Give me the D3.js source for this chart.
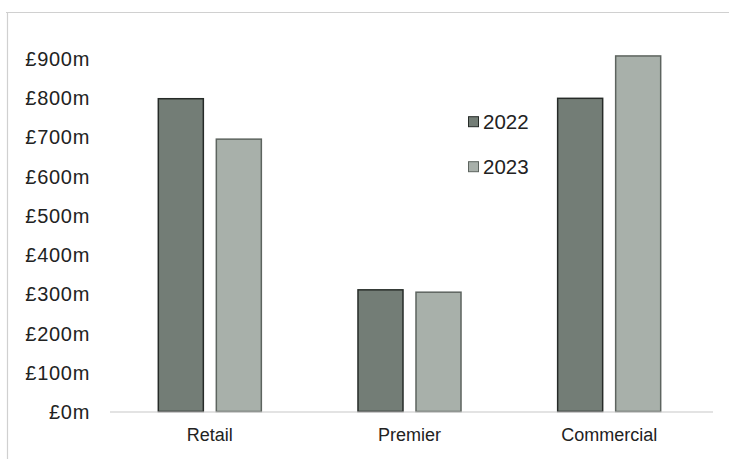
<!DOCTYPE html>
<html>
<head>
<meta charset="utf-8">
<script src="https://cdn.jsdelivr.net/npm/d3@7"></script>
<style>
  html, body { margin: 0; padding: 0; background: #fff; }
  svg { display: block; }
  text { font-family: "Liberation Sans", Arial, sans-serif; fill: #222; }
</style>
</head>
<body>
<svg id="chart" width="729" height="459"></svg>
<script>
// Revenue by division, £m
const categories = ["Retail", "Premier", "Commercial"];
const seriesNames = ["2022", "2023"];
const values2022 = [797, 310, 798];
const values2023 = [694, 304, 906];
const tickValues = [0, 100, 200, 300, 400, 500, 600, 700, 800, 900];
const tickLabels = ["£0m", "£100m", "£200m", "£300m", "£400m", "£500m", "£600m", "£700m", "£800m", "£900m"];

const fills = { "2022": "#737d76", "2023": "#a8b0aa" };
const strokes = { "2022": "#262b28", "2023": "#5d645f" };

const svg = d3.select("#chart");
const W = 729, H = 459;

// outer frame lines
svg.append("line").attr("x1", 6).attr("x2", W).attr("y1", 12.5).attr("y2", 12.5)
  .attr("stroke", "#d0d0d0").attr("stroke-width", 1.2);
svg.append("line").attr("x1", 7.5).attr("x2", 7.5).attr("y1", 12).attr("y2", H)
  .attr("stroke", "#d0d0d0").attr("stroke-width", 1.2);

const y = d3.scaleLinear().domain([0, 900]).range([411.5, 58.3]);
const x = d3.scaleBand().domain(categories).range([110, 709])
  .paddingInner(0.484).paddingOuter(0.242);
const xs = d3.scaleBand().domain(seriesNames).range([0, x.bandwidth()])
  .paddingInner(0.224).paddingOuter(0);

// y axis labels (no line, no ticks)
const yAxis = d3.axisLeft(y).tickValues(tickValues)
  .tickFormat((d, i) => tickLabels[i]).tickSize(0).tickPadding(0);
const gy = svg.append("g").attr("transform", "translate(90,0)").call(yAxis);
gy.select(".domain").remove();
gy.selectAll("text").attr("font-size", 20).attr("dy", "0.35em")
  .attr("letter-spacing", "0.7px")
  .style("font-family", "'Liberation Sans', Arial, sans-serif").attr("fill", "#222");

// bars
const rows = categories.map((c, i) => ({ cat: c, vals: [
  { s: "2022", v: values2022[i] }, { s: "2023", v: values2023[i] } ] }));

const groups = svg.append("g").selectAll("g").data(rows).join("g")
  .attr("transform", d => `translate(${x(d.cat)},0)`);
groups.selectAll("rect").data(d => d.vals).join("rect")
  .attr("x", d => xs(d.s))
  .attr("y", d => y(d.v))
  .attr("width", xs.bandwidth())
  .attr("height", d => y(0) - y(d.v))
  .attr("fill", d => fills[d.s])
  .attr("stroke", d => strokes[d.s])
  .attr("stroke-width", 1.5);

// x axis baseline and category labels
const xAxis = d3.axisBottom(x).tickSize(0).tickPadding(0);
const gx = svg.append("g").attr("transform", `translate(0,${y(0)})`).call(xAxis);
gx.select(".domain").attr("d", "M110,0.5H713").attr("stroke", "#c8c8c8").attr("stroke-width", 1.2);
gx.selectAll("text").attr("font-size", 18).attr("y", 0).attr("dy", "29.5")
  .style("font-family", "'Liberation Sans', Arial, sans-serif").attr("fill", "#222");

// legend
const legend = svg.append("g").selectAll("g").data(seriesNames).join("g")
  .attr("transform", (d, i) => `translate(468,${121.7 + i * 45})`);
legend.append("rect").attr("x", 0.5).attr("y", -5).attr("width", 10).attr("height", 10)
  .attr("fill", d => fills[d]).attr("stroke", d => strokes[d]).attr("stroke-width", 1);
legend.append("text").attr("x", 15).attr("dy", "0.35em").attr("font-size", 20.5).text(d => d);
</script>
</body>
</html>
